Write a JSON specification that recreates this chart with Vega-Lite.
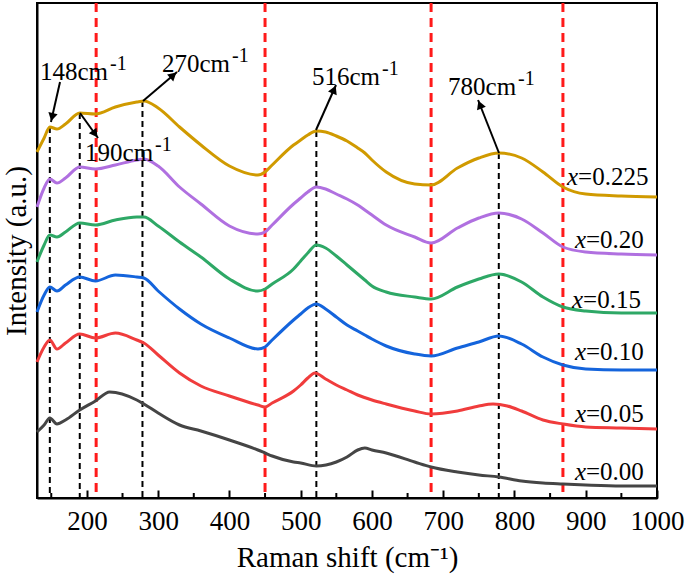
{
"$schema": "https://vega.github.io/schema/vega-lite/v6.json",
"width": 620, "height": 495,
"autosize": {"type": "none"},
"padding": {"left": 37, "top": 3, "right": 28, "bottom": 81},
"background": "white",
"config": {"view": {"stroke": "black", "strokeWidth": 2}, "font": "Liberation Serif"},
"datasets": {
"spectra": [
{"s":"x=0.225","x":130,"y":346},{"s":"x=0.225","x":140,"y":360},{"s":"x=0.225","x":148,"y":371},{"s":"x=0.225","x":158,"y":369},{"s":"x=0.225","x":170,"y":374},{"s":"x=0.225","x":190,"y":385},{"s":"x=0.225","x":212,"y":384},{"s":"x=0.225","x":240,"y":391},{"s":"x=0.225","x":270,"y":396},{"s":"x=0.225","x":280,"y":397},{"s":"x=0.225","x":300,"y":390},{"s":"x=0.225","x":330,"y":371},{"s":"x=0.225","x":360,"y":353},{"s":"x=0.225","x":400,"y":332},{"s":"x=0.225","x":440,"y":323},{"s":"x=0.225","x":450,"y":326},{"s":"x=0.225","x":460,"y":333},{"s":"x=0.225","x":490,"y":353},{"s":"x=0.225","x":500,"y":358},{"s":"x=0.225","x":510,"y":363},{"s":"x=0.225","x":522,"y":367},{"s":"x=0.225","x":535,"y":366},{"s":"x=0.225","x":550,"y":362},{"s":"x=0.225","x":565,"y":357},{"s":"x=0.225","x":580,"y":350},{"s":"x=0.225","x":590,"y":345},{"s":"x=0.225","x":600,"y":338},{"s":"x=0.225","x":620,"y":326},{"s":"x=0.225","x":660,"y":314},{"s":"x=0.225","x":683,"y":313},{"s":"x=0.225","x":720,"y":330},{"s":"x=0.225","x":750,"y":340},{"s":"x=0.225","x":778,"y":345},{"s":"x=0.225","x":810,"y":340},{"s":"x=0.225","x":840,"y":326},{"s":"x=0.225","x":868,"y":311},{"s":"x=0.225","x":900,"y":304},{"s":"x=0.225","x":950,"y":302},{"s":"x=0.225","x":1000,"y":301},
{"s":"x=0.20","x":130,"y":291},{"s":"x=0.20","x":140,"y":310},{"s":"x=0.20","x":148,"y":319},{"s":"x=0.20","x":158,"y":315},{"s":"x=0.20","x":170,"y":320},{"s":"x=0.20","x":190,"y":331},{"s":"x=0.20","x":212,"y":329},{"s":"x=0.20","x":240,"y":333},{"s":"x=0.20","x":270,"y":338},{"s":"x=0.20","x":280,"y":339},{"s":"x=0.20","x":300,"y":332},{"s":"x=0.20","x":330,"y":311},{"s":"x=0.20","x":360,"y":294},{"s":"x=0.20","x":400,"y":272},{"s":"x=0.20","x":440,"y":264},{"s":"x=0.20","x":450,"y":266},{"s":"x=0.20","x":460,"y":273},{"s":"x=0.20","x":490,"y":294},{"s":"x=0.20","x":500,"y":300},{"s":"x=0.20","x":510,"y":306},{"s":"x=0.20","x":522,"y":311},{"s":"x=0.20","x":535,"y":309},{"s":"x=0.20","x":550,"y":304},{"s":"x=0.20","x":565,"y":299},{"s":"x=0.20","x":580,"y":293},{"s":"x=0.20","x":590,"y":288},{"s":"x=0.20","x":600,"y":283},{"s":"x=0.20","x":620,"y":273},{"s":"x=0.20","x":660,"y":261},{"s":"x=0.20","x":683,"y":255},{"s":"x=0.20","x":720,"y":270},{"s":"x=0.20","x":750,"y":280},{"s":"x=0.20","x":778,"y":285},{"s":"x=0.20","x":810,"y":279},{"s":"x=0.20","x":840,"y":265},{"s":"x=0.20","x":868,"y":251},{"s":"x=0.20","x":900,"y":246},{"s":"x=0.20","x":950,"y":244},{"s":"x=0.20","x":1000,"y":243},
{"s":"x=0.15","x":130,"y":236},{"s":"x=0.15","x":140,"y":253},{"s":"x=0.15","x":148,"y":263},{"s":"x=0.15","x":158,"y":261},{"s":"x=0.15","x":170,"y":266},{"s":"x=0.15","x":190,"y":275},{"s":"x=0.15","x":212,"y":273},{"s":"x=0.15","x":240,"y":278},{"s":"x=0.15","x":270,"y":281},{"s":"x=0.15","x":280,"y":281},{"s":"x=0.15","x":300,"y":272},{"s":"x=0.15","x":330,"y":256},{"s":"x=0.15","x":360,"y":241},{"s":"x=0.15","x":400,"y":219},{"s":"x=0.15","x":440,"y":207},{"s":"x=0.15","x":450,"y":209},{"s":"x=0.15","x":460,"y":214},{"s":"x=0.15","x":490,"y":229},{"s":"x=0.15","x":500,"y":237},{"s":"x=0.15","x":510,"y":245},{"s":"x=0.15","x":522,"y":253},{"s":"x=0.15","x":535,"y":250},{"s":"x=0.15","x":550,"y":242},{"s":"x=0.15","x":565,"y":233},{"s":"x=0.15","x":580,"y":224},{"s":"x=0.15","x":590,"y":218},{"s":"x=0.15","x":600,"y":212},{"s":"x=0.15","x":620,"y":206},{"s":"x=0.15","x":660,"y":201},{"s":"x=0.15","x":683,"y":199},{"s":"x=0.15","x":720,"y":211},{"s":"x=0.15","x":750,"y":219},{"s":"x=0.15","x":778,"y":224},{"s":"x=0.15","x":810,"y":216},{"s":"x=0.15","x":840,"y":201},{"s":"x=0.15","x":868,"y":191},{"s":"x=0.15","x":900,"y":187},{"s":"x=0.15","x":950,"y":185},{"s":"x=0.15","x":1000,"y":185},
{"s":"x=0.10","x":130,"y":186},{"s":"x=0.10","x":140,"y":203},{"s":"x=0.10","x":148,"y":211},{"s":"x=0.10","x":158,"y":207},{"s":"x=0.10","x":170,"y":213},{"s":"x=0.10","x":190,"y":221},{"s":"x=0.10","x":212,"y":217},{"s":"x=0.10","x":240,"y":223},{"s":"x=0.10","x":270,"y":221},{"s":"x=0.10","x":280,"y":220},{"s":"x=0.10","x":300,"y":207},{"s":"x=0.10","x":330,"y":189},{"s":"x=0.10","x":360,"y":174},{"s":"x=0.10","x":400,"y":160},{"s":"x=0.10","x":440,"y":149},{"s":"x=0.10","x":450,"y":151},{"s":"x=0.10","x":460,"y":158},{"s":"x=0.10","x":490,"y":178},{"s":"x=0.10","x":500,"y":184},{"s":"x=0.10","x":510,"y":190},{"s":"x=0.10","x":522,"y":194},{"s":"x=0.10","x":535,"y":189},{"s":"x=0.10","x":550,"y":181},{"s":"x=0.10","x":565,"y":173},{"s":"x=0.10","x":580,"y":167},{"s":"x=0.10","x":590,"y":163},{"s":"x=0.10","x":600,"y":159},{"s":"x=0.10","x":620,"y":152},{"s":"x=0.10","x":660,"y":144},{"s":"x=0.10","x":683,"y":142},{"s":"x=0.10","x":720,"y":150},{"s":"x=0.10","x":750,"y":156},{"s":"x=0.10","x":778,"y":162},{"s":"x=0.10","x":810,"y":154},{"s":"x=0.10","x":840,"y":141},{"s":"x=0.10","x":868,"y":133},{"s":"x=0.10","x":900,"y":129},{"s":"x=0.10","x":950,"y":128},{"s":"x=0.10","x":1000,"y":128},
{"s":"x=0.05","x":130,"y":136},{"s":"x=0.05","x":140,"y":151},{"s":"x=0.05","x":148,"y":158},{"s":"x=0.05","x":158,"y":149},{"s":"x=0.05","x":170,"y":155},{"s":"x=0.05","x":190,"y":164},{"s":"x=0.05","x":212,"y":160},{"s":"x=0.05","x":240,"y":165},{"s":"x=0.05","x":270,"y":158},{"s":"x=0.05","x":280,"y":155},{"s":"x=0.05","x":300,"y":143},{"s":"x=0.05","x":330,"y":125},{"s":"x=0.05","x":360,"y":112},{"s":"x=0.05","x":400,"y":102},{"s":"x=0.05","x":440,"y":93},{"s":"x=0.05","x":450,"y":91},{"s":"x=0.05","x":460,"y":95},{"s":"x=0.05","x":490,"y":107},{"s":"x=0.05","x":500,"y":113},{"s":"x=0.05","x":510,"y":120},{"s":"x=0.05","x":520,"y":125},{"s":"x=0.05","x":535,"y":119},{"s":"x=0.05","x":550,"y":113},{"s":"x=0.05","x":565,"y":108},{"s":"x=0.05","x":580,"y":103},{"s":"x=0.05","x":600,"y":98},{"s":"x=0.05","x":620,"y":94},{"s":"x=0.05","x":660,"y":87},{"s":"x=0.05","x":683,"y":84},{"s":"x=0.05","x":720,"y":87},{"s":"x=0.05","x":750,"y":92},{"s":"x=0.05","x":770,"y":94},{"s":"x=0.05","x":790,"y":92},{"s":"x=0.05","x":810,"y":87},{"s":"x=0.05","x":840,"y":78},{"s":"x=0.05","x":868,"y":74},{"s":"x=0.05","x":900,"y":71},{"s":"x=0.05","x":950,"y":70},{"s":"x=0.05","x":1000,"y":69},
{"s":"x=0.00","x":130,"y":66},{"s":"x=0.00","x":140,"y":73},{"s":"x=0.00","x":148,"y":80},{"s":"x=0.00","x":158,"y":74},{"s":"x=0.00","x":170,"y":78},{"s":"x=0.00","x":190,"y":88},{"s":"x=0.00","x":212,"y":97},{"s":"x=0.00","x":232,"y":106},{"s":"x=0.00","x":270,"y":98},{"s":"x=0.00","x":280,"y":94},{"s":"x=0.00","x":300,"y":85},{"s":"x=0.00","x":330,"y":73},{"s":"x=0.00","x":360,"y":67},{"s":"x=0.00","x":400,"y":58},{"s":"x=0.00","x":440,"y":48},{"s":"x=0.00","x":450,"y":45},{"s":"x=0.00","x":460,"y":42},{"s":"x=0.00","x":490,"y":36},{"s":"x=0.00","x":500,"y":35},{"s":"x=0.00","x":522,"y":32},{"s":"x=0.00","x":550,"y":36},{"s":"x=0.00","x":565,"y":41},{"s":"x=0.00","x":580,"y":48},{"s":"x=0.00","x":590,"y":50},{"s":"x=0.00","x":600,"y":48},{"s":"x=0.00","x":620,"y":45},{"s":"x=0.00","x":660,"y":36},{"s":"x=0.00","x":683,"y":31},{"s":"x=0.00","x":720,"y":26},{"s":"x=0.00","x":750,"y":23},{"s":"x=0.00","x":778,"y":21},{"s":"x=0.00","x":810,"y":17},{"s":"x=0.00","x":840,"y":15},{"s":"x=0.00","x":868,"y":14},{"s":"x=0.00","x":900,"y":13},{"s":"x=0.00","x":950,"y":12},{"s":"x=0.00","x":1000,"y":12}
],
"redlines": [{"x":213},{"x":450},{"x":683},{"x":868}],
"minor": [{"x":150,"y":0,"y2":5},{"x":250,"y":0,"y2":5},{"x":350,"y":0,"y2":5},{"x":450,"y":0,"y2":5},{"x":550,"y":0,"y2":5},{"x":650,"y":0,"y2":5},{"x":750,"y":0,"y2":5},{"x":850,"y":0,"y2":5},{"x":950,"y":0,"y2":5}],
"peaks": [{"x":148,"y":371,"y0":0},{"x":190,"y":385,"y0":0},{"x":278,"y":397,"y0":0},{"x":522,"y":367,"y0":0},{"x":778,"y":345,"y0":0}],
"arrows": [
{"x":162.3,"y":416,"x2":149.6,"y2":376,"hx":151.2,"hy":380.9,"a":193},
{"x":190.3,"y":385,"x2":215.6,"y2":360,"hx":211.5,"hy":364.1,"a":144},
{"x":278.8,"y":397,"x2":326.5,"y2":426,"hx":321.2,"hy":422.7,"a":49},
{"x":521.5,"y":368,"x2":549.6,"y2":413,"hx":546.8,"hy":408.4,"a":24},
{"x":778.3,"y":345,"x2":748.9,"y2":398,"hx":751.5,"hy":393.4,"a":338}
],
"notes": [
{"x":134.2,"y":418,"t":"148cm","sx":232.4,"sy":428},
{"x":197.4,"y":337,"t":"190cm","sx":295.6,"sy":347},
{"x":305.4,"y":426,"t":"270cm","sx":403.6,"sy":436},
{"x":515.9,"y":413,"t":"516cm","sx":614.1,"sy":423},
{"x":706.8,"y":403,"t":"780cm","sx":805,"sy":413}
],
"labels": [
{"x":889.2,"y":313,"t":"=0.225"},
{"x":900.4,"y":250,"t":"=0.20"},
{"x":896.2,"y":190,"t":"=0.15"},
{"x":900.4,"y":138,"t":"=0.10"},
{"x":900.4,"y":76,"t":"=0.05"},
{"x":900.4,"y":18,"t":"=0.00"}
]
},
"layer": [
{
"data": {"name": "redlines"},
"mark": {"type": "rule", "color": "#ff1a1a", "strokeWidth": 3, "strokeDash": [9, 6]},
"encoding": {
"x": {"field": "x", "type": "quantitative", "title": "Raman shift (cm⁻¹)", "scale": {"domain": [130, 1000], "nice": false, "zero": false},
"axis": {"title": "Raman shift (cm⁻¹)", "titleFont": "Liberation Serif", "titleFontSize": 29, "titleFontWeight": "normal", "titleColor": "black", "titlePadding": 9, "values": [200,300,400,500,600,700,800,900,1000], "format": "d", "labelFont": "Liberation Serif", "labelFontSize": 27, "labelColor": "black", "labelPadding": 18, "tickColor": "black", "tickWidth": 2, "tickSize": -8, "domainColor": "black", "domainWidth": 2, "grid": false, "labelFlush": false, "labelOverlap": false}}
}
},
{
"data": {"name": "minor"},
"mark": {"type": "rule", "color": "black", "strokeWidth": 2},
"encoding": {
"x": {"field": "x", "type": "quantitative", "title": "Raman shift (cm⁻¹)", "scale": {"domain": [130, 1000], "nice": false, "zero": false},
"axis": {"title": "Raman shift (cm⁻¹)", "titleFont": "Liberation Serif", "titleFontSize": 29, "titleFontWeight": "normal", "titleColor": "black", "titlePadding": 9, "values": [200,300,400,500,600,700,800,900,1000], "format": "d", "labelFont": "Liberation Serif", "labelFontSize": 27, "labelColor": "black", "labelPadding": 18, "tickColor": "black", "tickWidth": 2, "tickSize": -8, "domainColor": "black", "domainWidth": 2, "grid": false, "labelFlush": false, "labelOverlap": false}},
"y": {"field": "y", "type": "quantitative", "title": "Intensity (a.u.)", "scale": {"domain": [0, 495], "nice": false, "zero": false},
"axis": {"title": "Intensity (a.u.)", "titleFont": "Liberation Serif", "titleFontSize": 29, "titleFontWeight": "normal", "titleColor": "black", "titlePadding": 6, "labels": false, "ticks": false, "grid": false, "domainColor": "black", "domainWidth": 2}},
"y2": {"field": "y2"}
}
},
{
"data": {"name": "peaks"},
"mark": {"type": "rule", "color": "black", "strokeWidth": 2, "strokeDash": [6, 4]},
"encoding": {
"x": {"field": "x", "type": "quantitative", "title": "Raman shift (cm⁻¹)", "scale": {"domain": [130, 1000], "nice": false, "zero": false},
"axis": {"title": "Raman shift (cm⁻¹)", "titleFont": "Liberation Serif", "titleFontSize": 29, "titleFontWeight": "normal", "titleColor": "black", "titlePadding": 9, "values": [200,300,400,500,600,700,800,900,1000], "format": "d", "labelFont": "Liberation Serif", "labelFontSize": 27, "labelColor": "black", "labelPadding": 18, "tickColor": "black", "tickWidth": 2, "tickSize": -8, "domainColor": "black", "domainWidth": 2, "grid": false, "labelFlush": false, "labelOverlap": false}},
"y": {"field": "y", "type": "quantitative", "title": "Intensity (a.u.)", "scale": {"domain": [0, 495], "nice": false, "zero": false},
"axis": {"title": "Intensity (a.u.)", "titleFont": "Liberation Serif", "titleFontSize": 29, "titleFontWeight": "normal", "titleColor": "black", "titlePadding": 6, "labels": false, "ticks": false, "grid": false, "domainColor": "black", "domainWidth": 2}},
"y2": {"field": "y0"}
}
},
{
"data": {"name": "spectra"},
"mark": {"type": "line", "strokeWidth": 3, "interpolate": "monotone"},
"encoding": {
"x": {"field": "x", "type": "quantitative", "title": "Raman shift (cm⁻¹)", "scale": {"domain": [130, 1000], "nice": false, "zero": false},
"axis": {"title": "Raman shift (cm⁻¹)", "titleFont": "Liberation Serif", "titleFontSize": 29, "titleFontWeight": "normal", "titleColor": "black", "titlePadding": 9, "values": [200,300,400,500,600,700,800,900,1000], "format": "d", "labelFont": "Liberation Serif", "labelFontSize": 27, "labelColor": "black", "labelPadding": 18, "tickColor": "black", "tickWidth": 2, "tickSize": -8, "domainColor": "black", "domainWidth": 2, "grid": false, "labelFlush": false, "labelOverlap": false}},
"y": {"field": "y", "type": "quantitative", "title": "Intensity (a.u.)", "scale": {"domain": [0, 495], "nice": false, "zero": false},
"axis": {"title": "Intensity (a.u.)", "titleFont": "Liberation Serif", "titleFontSize": 29, "titleFontWeight": "normal", "titleColor": "black", "titlePadding": 6, "labels": false, "ticks": false, "grid": false, "domainColor": "black", "domainWidth": 2}},
"color": {"field": "s", "type": "nominal", "legend": null, "scale": {"domain": ["x=0.00","x=0.05","x=0.10","x=0.15","x=0.20","x=0.225"], "range": ["#454545","#f03c3c","#1464dc","#2ea866","#b070e0","#d09a00"]}}
}
},
{
"data": {"name": "arrows"},
"mark": {"type": "rule", "color": "black", "strokeWidth": 2},
"encoding": {
"x": {"field": "x", "type": "quantitative", "title": "Raman shift (cm⁻¹)", "scale": {"domain": [130, 1000], "nice": false, "zero": false},
"axis": {"title": "Raman shift (cm⁻¹)", "titleFont": "Liberation Serif", "titleFontSize": 29, "titleFontWeight": "normal", "titleColor": "black", "titlePadding": 9, "values": [200,300,400,500,600,700,800,900,1000], "format": "d", "labelFont": "Liberation Serif", "labelFontSize": 27, "labelColor": "black", "labelPadding": 18, "tickColor": "black", "tickWidth": 2, "tickSize": -8, "domainColor": "black", "domainWidth": 2, "grid": false, "labelFlush": false, "labelOverlap": false}},
"y": {"field": "y", "type": "quantitative", "title": "Intensity (a.u.)", "scale": {"domain": [0, 495], "nice": false, "zero": false},
"axis": {"title": "Intensity (a.u.)", "titleFont": "Liberation Serif", "titleFontSize": 29, "titleFontWeight": "normal", "titleColor": "black", "titlePadding": 6, "labels": false, "ticks": false, "grid": false, "domainColor": "black", "domainWidth": 2}},
"x2": {"field": "x2"},
"y2": {"field": "y2"}
}
},
{
"data": {"name": "arrows"},
"mark": {"type": "point", "shape": "triangle-up", "filled": true, "color": "black", "opacity": 1, "size": 90},
"encoding": {
"x": {"field": "hx", "type": "quantitative", "title": "Raman shift (cm⁻¹)", "scale": {"domain": [130, 1000], "nice": false, "zero": false},
"axis": {"title": "Raman shift (cm⁻¹)", "titleFont": "Liberation Serif", "titleFontSize": 29, "titleFontWeight": "normal", "titleColor": "black", "titlePadding": 9, "values": [200,300,400,500,600,700,800,900,1000], "format": "d", "labelFont": "Liberation Serif", "labelFontSize": 27, "labelColor": "black", "labelPadding": 18, "tickColor": "black", "tickWidth": 2, "tickSize": -8, "domainColor": "black", "domainWidth": 2, "grid": false, "labelFlush": false, "labelOverlap": false}},
"y": {"field": "hy", "type": "quantitative", "title": "Intensity (a.u.)", "scale": {"domain": [0, 495], "nice": false, "zero": false},
"axis": {"title": "Intensity (a.u.)", "titleFont": "Liberation Serif", "titleFontSize": 29, "titleFontWeight": "normal", "titleColor": "black", "titlePadding": 6, "labels": false, "ticks": false, "grid": false, "domainColor": "black", "domainWidth": 2}},
"angle": {"field": "a", "type": "quantitative", "scale": null}
}
},
{
"data": {"name": "notes"},
"mark": {"type": "text", "align": "left", "baseline": "alphabetic", "font": "Liberation Serif", "fontSize": 25, "color": "black"},
"encoding": {
"x": {"field": "x", "type": "quantitative", "title": "Raman shift (cm⁻¹)", "scale": {"domain": [130, 1000], "nice": false, "zero": false},
"axis": {"title": "Raman shift (cm⁻¹)", "titleFont": "Liberation Serif", "titleFontSize": 29, "titleFontWeight": "normal", "titleColor": "black", "titlePadding": 9, "values": [200,300,400,500,600,700,800,900,1000], "format": "d", "labelFont": "Liberation Serif", "labelFontSize": 27, "labelColor": "black", "labelPadding": 18, "tickColor": "black", "tickWidth": 2, "tickSize": -8, "domainColor": "black", "domainWidth": 2, "grid": false, "labelFlush": false, "labelOverlap": false}},
"y": {"field": "y", "type": "quantitative", "title": "Intensity (a.u.)", "scale": {"domain": [0, 495], "nice": false, "zero": false},
"axis": {"title": "Intensity (a.u.)", "titleFont": "Liberation Serif", "titleFontSize": 29, "titleFontWeight": "normal", "titleColor": "black", "titlePadding": 6, "labels": false, "ticks": false, "grid": false, "domainColor": "black", "domainWidth": 2}},
"text": {"field": "t"}
}
},
{
"data": {"name": "notes"},
"mark": {"type": "text", "align": "left", "baseline": "alphabetic", "font": "Liberation Serif", "fontSize": 20, "color": "black", "text": "-1"},
"encoding": {
"x": {"field": "sx", "type": "quantitative", "title": "Raman shift (cm⁻¹)", "scale": {"domain": [130, 1000], "nice": false, "zero": false},
"axis": {"title": "Raman shift (cm⁻¹)", "titleFont": "Liberation Serif", "titleFontSize": 29, "titleFontWeight": "normal", "titleColor": "black", "titlePadding": 9, "values": [200,300,400,500,600,700,800,900,1000], "format": "d", "labelFont": "Liberation Serif", "labelFontSize": 27, "labelColor": "black", "labelPadding": 18, "tickColor": "black", "tickWidth": 2, "tickSize": -8, "domainColor": "black", "domainWidth": 2, "grid": false, "labelFlush": false, "labelOverlap": false}},
"y": {"field": "sy", "type": "quantitative", "title": "Intensity (a.u.)", "scale": {"domain": [0, 495], "nice": false, "zero": false},
"axis": {"title": "Intensity (a.u.)", "titleFont": "Liberation Serif", "titleFontSize": 29, "titleFontWeight": "normal", "titleColor": "black", "titlePadding": 6, "labels": false, "ticks": false, "grid": false, "domainColor": "black", "domainWidth": 2}}
}
},
{
"data": {"name": "labels"},
"mark": {"type": "text", "align": "right", "baseline": "alphabetic", "font": "Liberation Serif", "fontSize": 25, "fontStyle": "italic", "color": "black", "text": "x"},
"encoding": {
"x": {"field": "x", "type": "quantitative", "title": "Raman shift (cm⁻¹)", "scale": {"domain": [130, 1000], "nice": false, "zero": false},
"axis": {"title": "Raman shift (cm⁻¹)", "titleFont": "Liberation Serif", "titleFontSize": 29, "titleFontWeight": "normal", "titleColor": "black", "titlePadding": 9, "values": [200,300,400,500,600,700,800,900,1000], "format": "d", "labelFont": "Liberation Serif", "labelFontSize": 27, "labelColor": "black", "labelPadding": 18, "tickColor": "black", "tickWidth": 2, "tickSize": -8, "domainColor": "black", "domainWidth": 2, "grid": false, "labelFlush": false, "labelOverlap": false}},
"y": {"field": "y", "type": "quantitative", "title": "Intensity (a.u.)", "scale": {"domain": [0, 495], "nice": false, "zero": false},
"axis": {"title": "Intensity (a.u.)", "titleFont": "Liberation Serif", "titleFontSize": 29, "titleFontWeight": "normal", "titleColor": "black", "titlePadding": 6, "labels": false, "ticks": false, "grid": false, "domainColor": "black", "domainWidth": 2}}
}
},
{
"data": {"name": "labels"},
"mark": {"type": "text", "align": "left", "baseline": "alphabetic", "font": "Liberation Serif", "fontSize": 25, "color": "black"},
"encoding": {
"x": {"field": "x", "type": "quantitative", "title": "Raman shift (cm⁻¹)", "scale": {"domain": [130, 1000], "nice": false, "zero": false},
"axis": {"title": "Raman shift (cm⁻¹)", "titleFont": "Liberation Serif", "titleFontSize": 29, "titleFontWeight": "normal", "titleColor": "black", "titlePadding": 9, "values": [200,300,400,500,600,700,800,900,1000], "format": "d", "labelFont": "Liberation Serif", "labelFontSize": 27, "labelColor": "black", "labelPadding": 18, "tickColor": "black", "tickWidth": 2, "tickSize": -8, "domainColor": "black", "domainWidth": 2, "grid": false, "labelFlush": false, "labelOverlap": false}},
"y": {"field": "y", "type": "quantitative", "title": "Intensity (a.u.)", "scale": {"domain": [0, 495], "nice": false, "zero": false},
"axis": {"title": "Intensity (a.u.)", "titleFont": "Liberation Serif", "titleFontSize": 29, "titleFontWeight": "normal", "titleColor": "black", "titlePadding": 6, "labels": false, "ticks": false, "grid": false, "domainColor": "black", "domainWidth": 2}},
"text": {"field": "t"}
}
}
]
}
